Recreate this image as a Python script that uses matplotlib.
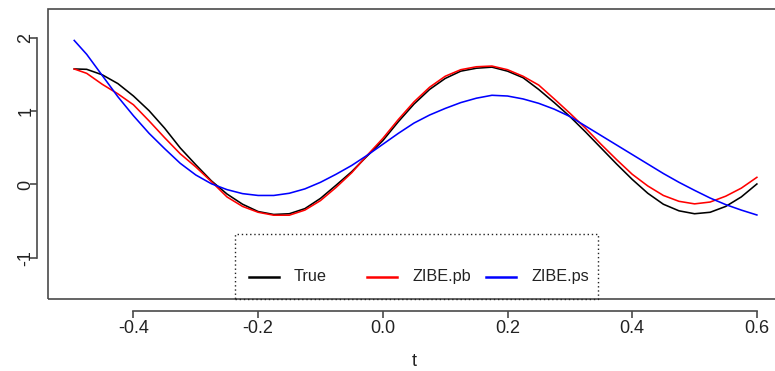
import matplotlib
matplotlib.use("Agg")
import matplotlib.pyplot as plt
from matplotlib.patches import Rectangle
from matplotlib.lines import Line2D

plt.rcParams['font.family'] = ['Liberation Sans', 'DejaVu Sans']

# Evaluation grid and the three curves
t = [-0.495, -0.475, -0.45, -0.425, -0.40, -0.375, -0.35, -0.325, -0.30, -0.275,
     -0.25, -0.225, -0.20, -0.175, -0.15, -0.125, -0.10, -0.075, -0.05, -0.025,
     0.0, 0.025, 0.05, 0.075, 0.10, 0.125, 0.15, 0.175, 0.20, 0.225,
     0.25, 0.275, 0.30, 0.325, 0.35, 0.375, 0.40, 0.425, 0.45, 0.475,
     0.50, 0.525, 0.55, 0.575, 0.60]
true_vals = [1.58, 1.575, 1.50, 1.38, 1.21, 1.01, 0.77, 0.50, 0.27, 0.05,
             -0.13, -0.27, -0.37, -0.41, -0.40, -0.33, -0.19, -0.01, 0.175, 0.39,
             0.60, 0.86, 1.10, 1.30, 1.45, 1.55, 1.59, 1.605, 1.55, 1.46,
             1.30, 1.12, 0.93, 0.72, 0.50, 0.28, 0.07, -0.12, -0.27, -0.36,
             -0.40, -0.38, -0.30, -0.17, 0.007]
zibe_pb = [1.58, 1.52, 1.37, 1.24, 1.09, 0.87, 0.64, 0.42, 0.24, 0.04,
           -0.17, -0.30, -0.38, -0.42, -0.42, -0.35, -0.22, -0.04, 0.16, 0.40,
           0.63, 0.89, 1.13, 1.33, 1.48, 1.57, 1.61, 1.62, 1.57, 1.48,
           1.36, 1.17, 0.975, 0.77, 0.55, 0.34, 0.14, -0.02, -0.15, -0.23,
           -0.265, -0.24, -0.16, -0.05, 0.098]
zibe_ps = [1.97, 1.78, 1.49, 1.20, 0.94, 0.70, 0.49, 0.29, 0.13, 0.01,
           -0.07, -0.125, -0.15, -0.15, -0.12, -0.06, 0.03, 0.14, 0.26, 0.40,
           0.55, 0.70, 0.84, 0.95, 1.04, 1.12, 1.18, 1.22, 1.21, 1.17,
           1.11, 1.03, 0.93, 0.80, 0.67, 0.54, 0.41, 0.28, 0.15, 0.03,
           -0.08, -0.185, -0.275, -0.35, -0.417]

series_names = ["True", "ZIBE.pb", "ZIBE.ps"]
series_colors = ["black", "#FF0000", "#0000FF"]
x_ticks = [-0.4, -0.2, 0.0, 0.2, 0.4, 0.6]
x_tick_labels = ["-0.4", "-0.2", "0.0", "0.2", "0.4", "0.6"]
y_ticks = [-1, 0, 1, 2]
y_tick_labels = ["-1", "0", "1", "2"]

W, H = 775, 371
fig = plt.figure(figsize=(W / 100, H / 100), dpi=100)
# plot region (right edge runs just past the figure)
left_px, right_px, top_px, bottom_px = 48.3, 779.7, 9.0, 299.0
ax = fig.add_axes([left_px / W, 1 - bottom_px / H,
                   (right_px - left_px) / W, (bottom_px - top_px) / H])
ax.set_xlim(-0.5366, 0.6366)
ax.set_ylim(-1.566, 2.40)

for vals, name, col in zip([true_vals, zibe_pb, zibe_ps], series_names, series_colors):
    ax.plot(t, vals, color=col, lw=1.15, solid_joinstyle='round')

axis_col = "#4a4a4a"
# box around the plot region
ax.add_patch(Rectangle((0, 0), 1, 1, transform=ax.transAxes, fill=False,
                       ec=axis_col, lw=1.2, clip_on=False, zorder=5))

# detached axes
for side in ["top", "right"]:
    ax.spines[side].set_visible(False)
ax.spines["left"].set_position(("outward", 8.4))
ax.spines["bottom"].set_position(("outward", 8.4))
ax.spines["left"].set_bounds(-1, 2)
ax.spines["bottom"].set_bounds(-0.4, 0.6)
for side in ["left", "bottom"]:
    ax.spines[side].set_color(axis_col)
    ax.spines[side].set_linewidth(1.2)

ax.set_xticks(x_ticks)
ax.set_xticklabels(x_tick_labels)
ax.set_yticks(y_ticks)
ax.set_yticklabels(y_tick_labels, rotation=90, va="center")
ax.tick_params(axis="both", direction="out", length=5, width=1.2,
               color=axis_col, labelsize=13, labelcolor="#222222")
ax.tick_params(axis="x", pad=2)
ax.tick_params(axis="y", pad=-3.5)
ax.set_xlabel("t", fontsize=13, color="#222222", labelpad=11.5)

# legend with dotted frame at the bottom of the plot region
lx0, lx1, ly_top = -0.2373, 0.3447, -0.681
ax.add_patch(Rectangle((lx0, -1.566), lx1 - lx0, ly_top + 1.566, fill=False,
                       ec="#222222", lw=1.0, ls=(0, (1, 2)), zorder=6, clip_on=False))
item_y = -1.265
line_starts = [-0.2146, -0.0253, 0.1655]
for x0, name, col in zip(line_starts, series_names, series_colors):
    ax.add_line(Line2D([x0, x0 + 0.048], [item_y, item_y], color=col, lw=1.8, zorder=7))
    ax.text(x0 + 0.0722, item_y, name, fontsize=11.7, color="#222222",
            ha="left", va="center", zorder=7)

fig.savefig("out.png", dpi=100)
